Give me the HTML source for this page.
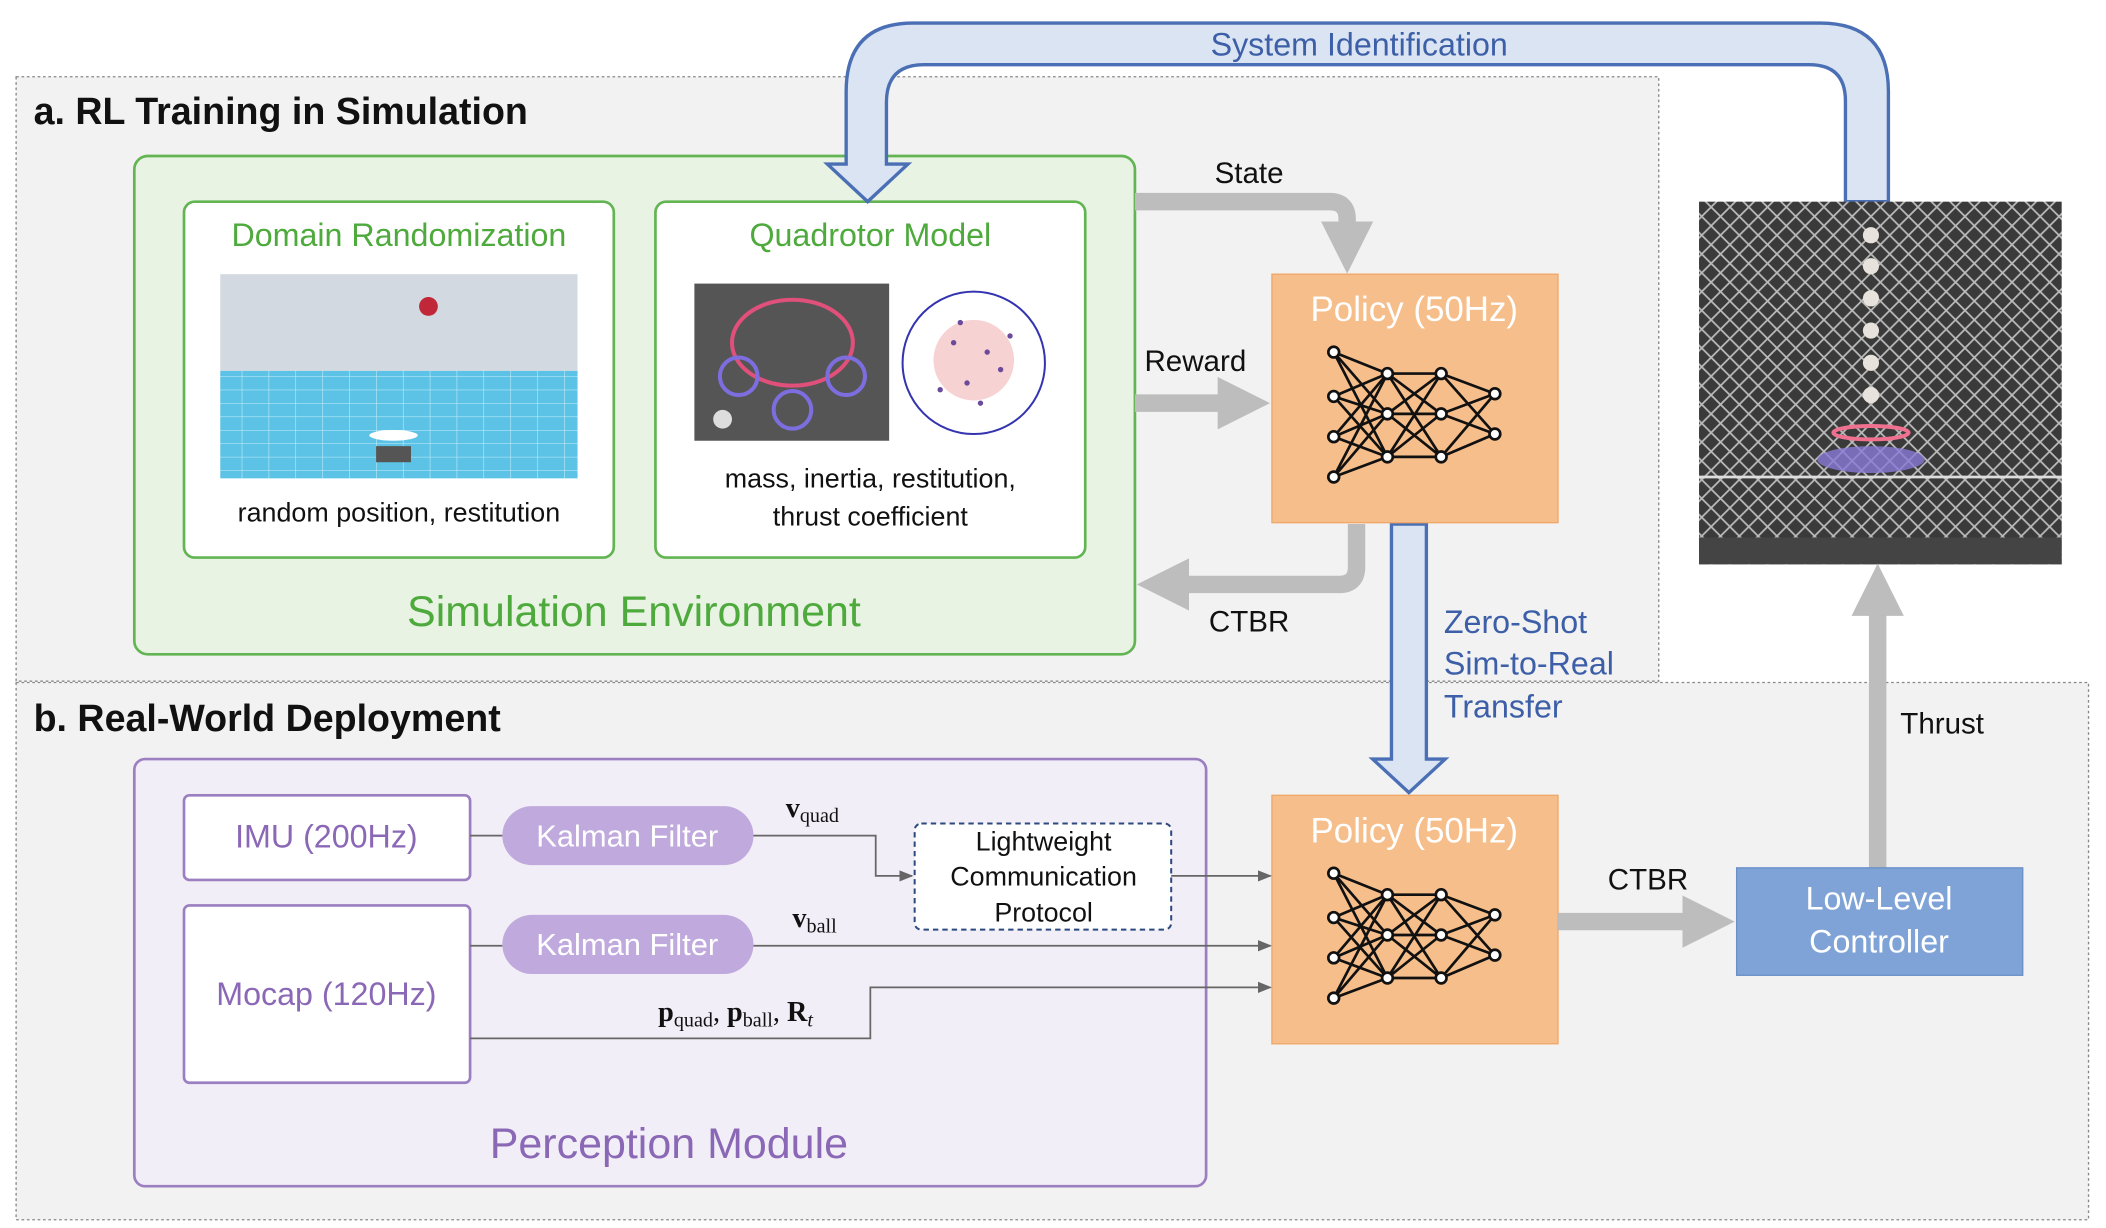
<!DOCTYPE html>
<html><head><meta charset="utf-8"><style>
html,body{margin:0;padding:0;background:#fff}
svg{display:block}
text{font-family:"Liberation Sans",sans-serif}
</style></head><body>
<svg width="2106" height="1228" viewBox="0 0 1568 914" xmlns="http://www.w3.org/2000/svg">
<defs>
<marker id="ga" viewBox="0 0 10 10" refX="6" refY="5" markerWidth="3" markerHeight="3" orient="auto"><path d="M0,0L10,5L0,10z" fill="#bdbdbd"/></marker>
<marker id="sa" viewBox="0 0 10 10" refX="9" refY="5" markerWidth="8" markerHeight="8" orient="auto"><path d="M0,1L10,5L0,9z" fill="#666"/></marker>
<pattern id="net" width="14" height="14" patternUnits="userSpaceOnUse"><rect width="14" height="14" fill="#3a3a3a"/><path d="M0,0L14,14M14,0L0,14" stroke="#bbb" stroke-width="1.3"/></pattern>
<pattern id="grid" width="20" height="10" patternUnits="userSpaceOnUse"><rect width="20" height="10" fill="#5cc3e6"/><path d="M0,0H20M0,0V10" stroke="#c8eefa" stroke-width="0.8"/></pattern>
</defs>
<rect x="12" y="57" width="1223" height="450" fill="#f2f2f2" stroke="#888" stroke-dasharray="2,2"/>
<rect x="12" y="508" width="1543" height="400" fill="#f2f2f2" stroke="#888" stroke-dasharray="2,2"/>
<text x="25" y="92" font-size="28" font-weight="bold" fill="#111">a. RL Training in Simulation</text>
<text x="25" y="544" font-size="28" font-weight="bold" fill="#111">b. Real-World Deployment</text>

<rect x="100" y="116" width="745" height="371" rx="10" fill="#e8f3e4" stroke="#62b552" stroke-width="2"/>
<rect x="137" y="150" width="320" height="265" rx="8" fill="#fff" stroke="#62b552" stroke-width="2"/>
<rect x="488" y="150" width="320" height="265" rx="8" fill="#fff" stroke="#62b552" stroke-width="2"/>
<text x="297" y="183" font-size="24" fill="#4eaa3c" text-anchor="middle">Domain Randomization</text>
<text x="648" y="183" font-size="24" fill="#4eaa3c" text-anchor="middle">Quadrotor Model</text>
<rect x="164" y="204" width="266" height="72" fill="#d3d9e1"/>
<rect x="164" y="276" width="266" height="80" fill="url(#grid)"/>
<circle cx="319" cy="228" r="7" fill="#c0283a"/>
<ellipse cx="293" cy="324" rx="18" ry="4" fill="#fff"/>
<rect x="280" y="332" width="26" height="12" fill="#555"/>
<text x="297" y="388" font-size="20" fill="#111" text-anchor="middle">random position, restitution</text>
<rect x="517" y="211" width="145" height="117" fill="#555"/>
<ellipse cx="590" cy="255" rx="45" ry="32" fill="none" stroke="#e0507a" stroke-width="3"/>
<circle cx="550" cy="280" r="14" fill="none" stroke="#7d6ee0" stroke-width="3"/>
<circle cx="630" cy="280" r="14" fill="none" stroke="#7d6ee0" stroke-width="3"/>
<circle cx="590" cy="305" r="14" fill="none" stroke="#7d6ee0" stroke-width="3"/>
<circle cx="538" cy="312" r="7" fill="#ddd"/>
<circle cx="725" cy="270" r="53" fill="#fff" stroke="#3434b0" stroke-width="1.5"/>
<circle cx="725" cy="268" r="30" fill="#f7d2d2"/>
<g fill="#6a4a9a"><circle cx="710" cy="255" r="2"/><circle cx="735" cy="262" r="2"/><circle cx="720" cy="285" r="2"/><circle cx="745" cy="275" r="2"/><circle cx="700" cy="290" r="2"/><circle cx="752" cy="250" r="2"/><circle cx="730" cy="300" r="2"/><circle cx="715" cy="240" r="2"/></g>
<text x="648" y="363" font-size="20" fill="#111" text-anchor="middle">mass, inertia, restitution,</text>
<text x="648" y="391" font-size="20" fill="#111" text-anchor="middle">thrust coefficient</text>
<text x="472" y="466" font-size="32" fill="#4eaa3c" text-anchor="middle">Simulation Environment</text>

<path d="M845,150H990Q1003,150 1003,163V188" fill="none" stroke="#bdbdbd" stroke-width="13" marker-end="url(#ga)"/>
<text x="930" y="136" font-size="22" fill="#111" text-anchor="middle">State</text>
<path d="M845,300H930" fill="none" stroke="#bdbdbd" stroke-width="13" marker-end="url(#ga)"/>
<text x="890" y="276" font-size="22" fill="#111" text-anchor="middle">Reward</text>
<path d="M1010,390V422Q1010,435 997,435H862" fill="none" stroke="#bdbdbd" stroke-width="13" marker-end="url(#ga)"/>
<text x="930" y="470" font-size="22" fill="#111" text-anchor="middle">CTBR</text>

<path d="M1374,150V75Q1374,48 1347,48H688Q660,48 660,76V122H676L646,150L616,122H630V68Q630,17 680,17H1355Q1406,17 1406,68V150Z" fill="#dae4f2" stroke="#4a6fb5" stroke-width="2.5"/>
<text x="1012" y="41" font-size="24" fill="#3d5fa8" text-anchor="middle">System Identification</text>

<path d="M1036,390H1062V565H1076L1049,590L1022,565H1036Z" fill="#dae4f2" stroke="#4a6fb5" stroke-width="2.5"/>
<text font-size="24" fill="#3d5fa8"><tspan x="1075" y="471">Zero-Shot</tspan><tspan x="1075" y="502">Sim-to-Real</tspan><tspan x="1075" y="534">Transfer</tspan></text>

<rect x="947" y="204" width="213" height="185" fill="#f6be8a" stroke="#f0a868"/>
<rect x="947" y="592" width="213" height="185" fill="#f6be8a" stroke="#f0a868"/>
<text x="1053" y="239" font-size="26" fill="#fff" text-anchor="middle">Policy (50Hz)</text>
<text x="1053" y="627" font-size="26" fill="#fff" text-anchor="middle">Policy (50Hz)</text>
<g stroke="#111" stroke-width="2" fill="none">
<path id="nn" d="M993,262L1033,278M993,262L1033,308M993,262L1033,340M993,295L1033,278M993,295L1033,308M993,295L1033,340M993,325L1033,278M993,325L1033,308M993,325L1033,340M993,355L1033,278M993,355L1033,308M993,355L1033,340M1033,278L1073,278M1033,278L1073,308M1033,278L1073,340M1033,308L1073,278M1033,308L1073,308M1033,308L1073,340M1033,340L1073,278M1033,340L1073,308M1033,340L1073,340M1073,278L1113,293M1073,308L1113,293M1073,340L1113,293M1073,278L1113,323M1073,308L1113,323M1073,340L1113,323"/>
</g>
<g fill="#fff" stroke="#111" stroke-width="2">
<circle cx="993" cy="262" r="4"/><circle cx="993" cy="295" r="4"/><circle cx="993" cy="325" r="4"/><circle cx="993" cy="355" r="4"/>
<circle cx="1033" cy="278" r="4"/><circle cx="1033" cy="308" r="4"/><circle cx="1033" cy="340" r="4"/>
<circle cx="1073" cy="278" r="4"/><circle cx="1073" cy="308" r="4"/><circle cx="1073" cy="340" r="4"/>
<circle cx="1113" cy="293" r="4"/><circle cx="1113" cy="323" r="4"/>
</g>
<g transform="translate(0,388)">
<use href="#nn" stroke="#111" stroke-width="2" fill="none"/>
<g fill="#fff" stroke="#111" stroke-width="2">
<circle cx="993" cy="262" r="4"/><circle cx="993" cy="295" r="4"/><circle cx="993" cy="325" r="4"/><circle cx="993" cy="355" r="4"/>
<circle cx="1033" cy="278" r="4"/><circle cx="1033" cy="308" r="4"/><circle cx="1033" cy="340" r="4"/>
<circle cx="1073" cy="278" r="4"/><circle cx="1073" cy="308" r="4"/><circle cx="1073" cy="340" r="4"/>
<circle cx="1113" cy="293" r="4"/><circle cx="1113" cy="323" r="4"/>
</g></g>

<rect x="1265" y="150" width="270" height="270" fill="url(#net)"/>
<rect x="1265" y="400" width="270" height="20" fill="#444"/>
<g fill="#e8e2dc"><circle cx="1393" cy="175" r="6"/><circle cx="1393" cy="198" r="6"/><circle cx="1393" cy="222" r="6"/><circle cx="1393" cy="246" r="6"/><circle cx="1393" cy="270" r="6"/><circle cx="1393" cy="294" r="6"/></g>
<ellipse cx="1393" cy="322" rx="28" ry="5" fill="none" stroke="#f07090" stroke-width="3"/>
<ellipse cx="1393" cy="342" rx="40" ry="10" fill="#8a7ad8" opacity="0.8"/>
<path d="M1265,355H1535" stroke="#ddd" stroke-width="2"/>

<path d="M1398,646V435" stroke="#bdbdbd" stroke-width="13" fill="none" marker-end="url(#ga)"/>
<text x="1446" y="546" font-size="22" fill="#111" text-anchor="middle">Thrust</text>

<rect x="1293" y="646" width="213" height="80" fill="#7fa3d6" stroke="#6a90c8"/>
<text x="1399" y="677" font-size="24" fill="#fff" text-anchor="middle">Low-Level</text>
<text x="1399" y="709" font-size="24" fill="#fff" text-anchor="middle">Controller</text>
<path d="M1160,686H1276" stroke="#bdbdbd" stroke-width="13" fill="none" marker-end="url(#ga)"/>
<text x="1227" y="662" font-size="22" fill="#111" text-anchor="middle">CTBR</text>

<rect x="100" y="565" width="798" height="318" rx="8" fill="#f1eef7" stroke="#9b7fc0" stroke-width="2"/>
<rect x="137" y="592" width="213" height="63" rx="4" fill="#fff" stroke="#9b7fc0" stroke-width="2"/>
<rect x="137" y="674" width="213" height="132" rx="4" fill="#fff" stroke="#9b7fc0" stroke-width="2"/>
<text x="243" y="631" font-size="24" fill="#8a68b6" text-anchor="middle">IMU (200Hz)</text>
<text x="243" y="748" font-size="24" fill="#8a68b6" text-anchor="middle">Mocap (120Hz)</text>
<rect x="374" y="600" width="187" height="44" rx="22" fill="#c0a9dc"/>
<rect x="374" y="681" width="187" height="44" rx="22" fill="#c0a9dc"/>
<text x="467" y="630" font-size="23" fill="#fff" text-anchor="middle">Kalman Filter</text>
<text x="467" y="711" font-size="23" fill="#fff" text-anchor="middle">Kalman Filter</text>
<rect x="681" y="613" width="191" height="79" rx="5" fill="#fff" stroke="#2c4a80" stroke-width="1.5" stroke-dasharray="4,3"/>
<text x="777" y="633" font-size="20" fill="#111" text-anchor="middle">Lightweight</text>
<text x="777" y="659" font-size="20" fill="#111" text-anchor="middle">Communication</text>
<text x="777" y="686" font-size="20" fill="#111" text-anchor="middle">Protocol</text>
<g stroke="#666" stroke-width="1.3" fill="none">
<path d="M350,622H374"/><path d="M350,704H374"/>
<path d="M561,622H652V652H679" marker-end="url(#sa)"/>
<path d="M872,652H946" marker-end="url(#sa)"/>
<path d="M561,704H946" marker-end="url(#sa)"/>
<path d="M350,773H648V735H946" marker-end="url(#sa)"/>
</g>
<g fill="#111">
<text x="585" y="608" font-size="21" font-weight="bold" style="font-family:'Liberation Serif',serif">v<tspan font-size="15" font-weight="normal" dy="4">quad</tspan></text>
<text x="590" y="690" font-size="21" font-weight="bold" style="font-family:'Liberation Serif',serif">v<tspan font-size="15" font-weight="normal" dy="4">ball</tspan></text>
<text x="490" y="760" font-size="21" font-weight="bold" style="font-family:'Liberation Serif',serif">p<tspan font-size="15" font-weight="normal" dy="4">quad</tspan><tspan dy="-4" font-weight="normal">, </tspan>p<tspan font-size="15" font-weight="normal" dy="4">ball</tspan><tspan dy="-4" font-weight="normal">, </tspan>R<tspan font-size="15" font-style="italic" font-weight="normal" dy="4">t</tspan></text>
</g>
<text x="498" y="862" font-size="32" fill="#8a68b6" text-anchor="middle">Perception Module</text>
</svg>
</body></html>
